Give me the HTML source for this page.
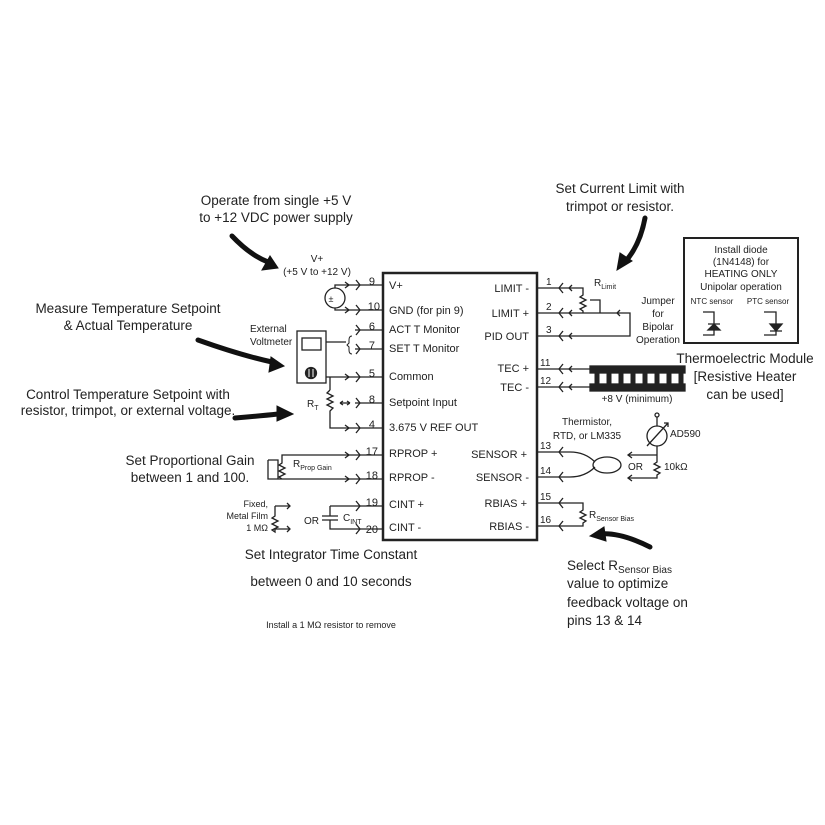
<!DOCTYPE html>
<html><head><style>
html,body{margin:0;padding:0;background:#fff}
svg{display:block}
text{font-family:"Liberation Sans",sans-serif;fill:#222}
</style></head><body>
<svg width="825" height="825" viewBox="0 0 825 825" xmlns="http://www.w3.org/2000/svg">
<g stroke="#222" fill="none" stroke-width="1.3">
<rect x="383" y="273" width="154" height="267" stroke-width="2.5"/>
<path d="M345 285H383M345 310H383M355 330H383M355 349H383M345 377H383M355 403H383M345 428H383M345 455H383M345 479H383M345 506H383M345 529H383"/>
<path d="M356 280l4 5-4 5M356 305l4 5-4 5M356 325l4 5-4 5M356 344l4 5-4 5M356 372l4 5-4 5M356 398l4 5-4 5M356 423l4 5-4 5M356 450l4 5-4 5M356 474l4 5-4 5M356 501l4 5-4 5M356 524l4 5-4 5"/>
<path d="M345 282l4 3-4 3M345 307l4 3-4 3M345 374l4 3-4 3M345 425l4 3-4 3M345 452l4 3-4 3M345 476l4 3-4 3"/>
<path d="M537 288H575M537 313H575M537 336H575M537 369H575M537 387H575M537 452H570M537 477H570M537 503H575M537 526H575"/>
<path d="M563 283l-4 5 4 5M563 308l-4 5 4 5M563 331l-4 5 4 5M563 364l-4 5 4 5M563 382l-4 5 4 5M563 447l-4 5 4 5M563 472l-4 5 4 5M563 498l-4 5 4 5M563 521l-4 5 4 5"/>
<path d="M572 285l-3 3 3 3M572 310l-3 3 3 3M572 333l-3 3 3 3M572 366l-3 3 3 3M572 384l-3 3 3 3"/>
<circle cx="335" cy="298" r="10"/>
<path d="M335 288V285H345M335 308V310H345"/>
<rect x="297" y="331" width="29" height="52"/>
<rect x="302" y="338" width="19" height="12"/>
<circle cx="311" cy="373" r="5.5" fill="#222"/>
<path d="M309 369v8M313 369v8" stroke="#fff" stroke-width="1"/>
<path d="M326 342H346M326 377H345M330 377V390M330 390l-3 3 6 3-6 3 6 3-6 3 6 3-3 3V428H345"/>
<path d="M340 403H350M340 403l3-2M340 403l3 2M350 403l-3-2M350 403l-3 2"/>
<path d="M352 336q-3 0-3 4v3l-2 2 2 2v3q0 4 3 4" stroke-width="1"/>
<path d="M345 455H282V463l-3 2 6 3-6 3 6 3-6 3 3 2V479M268 460H278V479M268 460V479H345"/>
<path d="M275 506H290M275 506V516l-3 2 6 3-6 3 6 3-6 3 3 2V529H290"/>
<path d="M287 503l3 3-3 3M287 526l3 3-3 3"/>
<path d="M330 506H345M330 506V516M322 516H338M322 520H338M330 520V529H345"/>
<path d="M575 288H583V295l-3 2 6 3-6 3 6 3-6 3 3 2V313M575 313H620M590 300H600V313M575 336H630V313H620"/>
<path d="M620 310l-3 3 3 3"/>
<rect x="590" y="366" width="95" height="7" fill="#222"/>
<rect x="590" y="384" width="95" height="7" fill="#222"/>
<path d="M597 373v11M609 373v11M621 373v11M633 373v11M645 373v11M657 373v11M669 373v11M681 373v11" stroke-width="5"/>
<path d="M575 369H590M575 387H590"/>
<path d="M570 452q15 0 25 10M570 477q15 0 25-10"/>
<ellipse cx="607" cy="465" rx="14" ry="8"/>
<circle cx="657" cy="436" r="10"/>
<path d="M647 446L668 423M664 423h4v4M657 426V417M657 446V455H628M657 455V462l-3 2 6 3-6 3 6 3-3 2V478H628"/>
<path d="M632 452l-4 3 4 3M632 475l-4 3 4 3"/>
<circle cx="657" cy="415" r="2"/>
<path d="M575 503H583V510l-3 2 6 3-6 3 6 3-3 2V526H575"/>
<rect x="684" y="238" width="114" height="105" stroke-width="2"/>
<path d="M703 312H714V335H703M708 324h12"/>
<path d="M708 330l6-6 6 6z" fill="#222"/>
<path d="M764 312H776V335H764M770 331h12"/>
<path d="M770 324l6 7 6-7z" fill="#222"/>
</g>
<g font-size="11">
<text x="375" y="285" text-anchor="end">9</text>
<text x="380" y="310" text-anchor="end">10</text>
<text x="375" y="330" text-anchor="end">6</text>
<text x="375" y="349" text-anchor="end">7</text>
<text x="375" y="377" text-anchor="end">5</text>
<text x="375" y="403" text-anchor="end">8</text>
<text x="375" y="428" text-anchor="end">4</text>
<text x="378" y="455" text-anchor="end">17</text>
<text x="378" y="479" text-anchor="end">18</text>
<text x="378" y="506" text-anchor="end">19</text>
<text x="378" y="533" text-anchor="end">20</text>
<text x="389" y="289">V+</text>
<text x="389" y="314">GND (for pin 9)</text>
<text x="389" y="333">ACT T Monitor</text>
<text x="389" y="352">SET T Monitor</text>
<text x="389" y="380">Common</text>
<text x="389" y="406">Setpoint Input</text>
<text x="389" y="431">3.675 V REF OUT</text>
<text x="389" y="457">RPROP +</text>
<text x="389" y="481">RPROP -</text>
<text x="389" y="508">CINT +</text>
<text x="389" y="531">CINT -</text>
<g text-anchor="end">
<text x="529" y="292">LIMIT -</text>
<text x="529" y="317">LIMIT +</text>
<text x="529" y="340">PID OUT</text>
<text x="529" y="372">TEC +</text>
<text x="529" y="391">TEC -</text>
<text x="527" y="458">SENSOR +</text>
<text x="529" y="481">SENSOR -</text>
<text x="527" y="507">RBIAS +</text>
<text x="529" y="530">RBIAS -</text>
</g>
<text x="546" y="285" font-size="10">1</text>
<text x="546" y="310" font-size="10">2</text>
<text x="546" y="333" font-size="10">3</text>
<text x="540" y="366" font-size="10">11</text>
<text x="540" y="384" font-size="10">12</text>
<text x="540" y="449" font-size="10">13</text>
<text x="540" y="474" font-size="10">14</text>
<text x="540" y="500" font-size="10">15</text>
<text x="540" y="523" font-size="10">16</text>
<text x="317" y="262" text-anchor="middle" font-size="10">V+</text>
<text x="317" y="275" text-anchor="middle" font-size="10">(+5 V to +12 V)</text>
<text x="331" y="302" text-anchor="middle" font-size="9">±</text>
<text x="250" y="332" font-size="10">External</text>
<text x="250" y="345" font-size="10">Voltmeter</text>
<text x="307" y="407" font-size="10">R<tspan font-size="7" dy="3">T</tspan></text>
<text x="293" y="467" font-size="10">R<tspan font-size="7" dy="3">Prop Gain</tspan></text>
<text x="304" y="524" font-size="10">OR</text>
<text x="343" y="521" font-size="10">C<tspan font-size="7" dy="3">INT</tspan></text>
<text x="268" y="507" text-anchor="end" font-size="9">Fixed,</text>
<text x="268" y="519" text-anchor="end" font-size="9">Metal Film</text>
<text x="268" y="531" text-anchor="end" font-size="9">1 MΩ</text>
<text x="594" y="286" font-size="10">R<tspan font-size="7" dy="3">Limit</tspan></text>
<text x="658" y="304" text-anchor="middle" font-size="10">Jumper</text>
<text x="658" y="317" text-anchor="middle" font-size="10">for</text>
<text x="658" y="330" text-anchor="middle" font-size="10">Bipolar</text>
<text x="658" y="343" text-anchor="middle" font-size="10">Operation</text>
<text x="637" y="402" text-anchor="middle" font-size="10">+8 V (minimum)</text>
<text x="587" y="425" text-anchor="middle" font-size="10">Thermistor,</text>
<text x="587" y="439" text-anchor="middle" font-size="10">RTD, or LM335</text>
<text x="628" y="470" font-size="10">OR</text>
<text x="670" y="437" font-size="10">AD590</text>
<text x="664" y="470" font-size="10">10kΩ</text>
<text x="589" y="518" font-size="10">R<tspan font-size="7" dy="3">Sensor Bias</tspan></text>
<g text-anchor="middle" font-size="10">
<text x="741" y="253">Install diode</text>
<text x="741" y="265">(1N4148) for</text>
<text x="741" y="277">HEATING ONLY</text>
<text x="741" y="290">Unipolar operation</text>
<text x="712" y="304" font-size="8">NTC sensor</text>
<text x="768" y="304" font-size="8">PTC sensor</text>
</g>
</g>
<g font-size="13.5">
<text x="276" y="205" text-anchor="middle">Operate from single +5 V</text>
<text x="276" y="222" text-anchor="middle">to +12 VDC power supply</text>
<text x="620" y="193" text-anchor="middle">Set Current Limit with</text>
<text x="620" y="211" text-anchor="middle">trimpot or resistor.</text>
<text x="128" y="313" text-anchor="middle">Measure Temperature Setpoint</text>
<text x="128" y="330" text-anchor="middle">&amp; Actual Temperature</text>
<text x="128" y="399" text-anchor="middle">Control Temperature Setpoint with</text>
<text x="128" y="415" text-anchor="middle">resistor, trimpot, or external voltage.</text>
<text x="190" y="465" text-anchor="middle">Set Proportional Gain</text>
<text x="190" y="482" text-anchor="middle">between 1 and 100.</text>
<text x="331" y="559" text-anchor="middle">Set Integrator Time Constant</text>
<text x="331" y="586" text-anchor="middle">between 0 and 10 seconds</text>
<text x="745" y="363" text-anchor="middle">Thermoelectric Module</text>
<text x="745" y="381" text-anchor="middle">[Resistive Heater</text>
<text x="745" y="399" text-anchor="middle">can be used]</text>
<text x="567" y="570">Select R<tspan font-size="10" dy="3">Sensor Bias</tspan></text>
<text x="567" y="588">value to optimize</text>
<text x="567" y="607">feedback voltage on</text>
<text x="567" y="625">pins 13 &amp; 14</text>
</g>
<text x="331" y="628" text-anchor="middle" font-size="9">Install a 1 MΩ resistor to remove</text>
<g fill="#111" stroke="#111" stroke-width="5" stroke-linecap="round">
<path d="M232 236Q250 255 268 262" fill="none"/>
<path d="M278 268l-16 2 8-14z" stroke-width="1"/>
<path d="M645 218Q640 245 625 262" fill="none"/>
<path d="M617 270l3-17 12 8z" stroke-width="1"/>
<path d="M198 340Q240 355 272 362" fill="none"/>
<path d="M284 366l-15 6 2-15z" stroke-width="1"/>
<path d="M235 418Q260 416 278 414" fill="none"/>
<path d="M293 414l-16 7 0-15z" stroke-width="1"/>
<path d="M650 547Q620 532 600 534" fill="none"/>
<path d="M590 536l14-9 2 14z" stroke-width="1"/>
</g>
</svg>
</body></html>
